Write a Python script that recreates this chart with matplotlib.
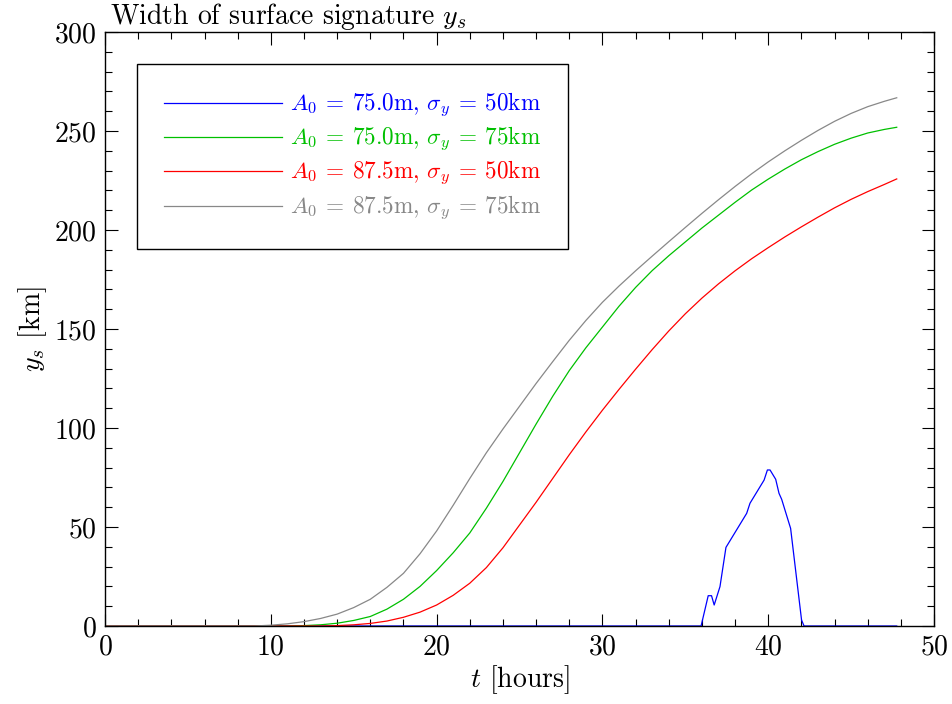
import matplotlib
matplotlib.use("Agg")
import matplotlib.pyplot as plt
from matplotlib.ticker import MultipleLocator

plt.rcParams.update({
    "font.family": "serif",
    "font.serif": ["cmr10"],
    "mathtext.fontset": "cm",
    "axes.formatter.use_mathtext": True,
    "axes.unicode_minus": False,
})

# Surface-signature width y_s [km] versus time t [hours]
t_a75_s50 = [0, 35.95, 36.38, 36.58, 36.74, 37.09, 37.45, 38.7, 38.9, 39.75,
             39.95, 40.11, 40.45, 40.65, 40.81, 41.35, 42.01, 42.16, 47.75]
y_a75_s50 = [0, 0, 15.3, 15.3, 10.6, 19.9, 39.7, 56.9, 62, 73.7,
             78.8, 78.8, 74.1, 67, 64, 49.3, 3, 0, 0]

t_a75_s75 = [0, 11, 12, 13, 14, 15, 16, 17, 18, 19, 20, 21, 22, 23, 24, 25,
             26, 27, 28, 29, 30, 31, 32, 33, 34, 35, 36, 37, 38, 39, 40, 41,
             42, 43, 44, 45, 46, 47, 47.75]
y_a75_s75 = [0, 0, 0.2, 0.6, 1.4, 2.8, 4.8, 8.5, 13.5, 20, 28, 37, 47, 59.5,
             73, 87.5, 102, 116, 129, 140.5, 151, 161.5, 171, 179.5, 187, 194,
             201, 207.5, 214, 220.2, 225.7, 230.8, 235.5, 239.6, 243.3,
             246.4, 249, 250.8, 251.9]

t_a875_s50 = [0, 13, 14, 15, 16, 17, 18, 19, 20, 21, 22, 23, 24, 25, 26, 27,
              28, 29, 30, 31, 32, 33, 34, 35, 36, 37, 38, 39, 40, 41, 42, 43,
              44, 45, 46, 47, 47.75]
y_a875_s50 = [0, 0, 0.2, 0.6, 1.3, 2.5, 4.4, 7, 10.6, 15.5, 21.6, 29.5, 39.5,
              51, 62.5, 74.5, 86.5, 98, 109, 119.5, 129.7, 139.6, 149, 157.7,
              165.6, 172.8, 179.4, 185.5, 191.1, 196.5, 201.6, 206.5, 211.2,
              215.5, 219.4, 223, 225.8]

t_a875_s75 = [0, 9, 10, 11, 12, 13, 14, 15, 16, 17, 18, 19, 20, 21, 22, 23,
              24, 25, 26, 27, 28, 29, 30, 31, 32, 33, 34, 35, 36, 37, 38, 39,
              40, 41, 42, 43, 44, 45, 46, 47, 47.75]
y_a875_s75 = [0, 0, 0.4, 1.1, 2.2, 3.8, 6, 9.3, 13.5, 19.5, 26.6, 36.5, 48,
              61, 74.5, 87.5, 99.5, 111, 122.5, 133.5, 144.3, 154.3, 163.5,
              171.7, 179.4, 186.8, 194.1, 201.3, 208.4, 215.3, 222, 228.4,
              234.4, 240, 245.3, 250.3, 254.9, 258.9, 262.3, 265, 266.8]

labels = [
    r"$A_0\:=\:75.0\mathrm{m}$, $\sigma_y\:=\:50\mathrm{km}$",
    r"$A_0\:=\:75.0\mathrm{m}$, $\sigma_y\:=\:75\mathrm{km}$",
    r"$A_0\:=\:87.5\mathrm{m}$, $\sigma_y\:=\:50\mathrm{km}$",
    r"$A_0\:=\:87.5\mathrm{m}$, $\sigma_y\:=\:75\mathrm{km}$",
]
colors = ["#0000ff", "#00c000", "#ff0000", "#888888"]

fig = plt.figure(figsize=(9.53, 7.04), dpi=100)
ax = fig.add_axes([0.1102, 0.1108, 0.8699, 0.8437])

series = [(t_a75_s50, y_a75_s50), (t_a75_s75, y_a75_s75),
          (t_a875_s50, y_a875_s50), (t_a875_s75, y_a875_s75)]
for (t, y), c, lab in zip(series, colors, labels):
    ax.plot(t, y, color=c, lw=0.9, label=lab)

ax.set_xlim(0, 50)
ax.set_ylim(0, 300)
ax.xaxis.set_major_locator(MultipleLocator(10))
ax.xaxis.set_minor_locator(MultipleLocator(2))
ax.yaxis.set_major_locator(MultipleLocator(50))
ax.yaxis.set_minor_locator(MultipleLocator(10))
ax.tick_params(which="both", direction="in", top=True, right=True,
               labelsize=20, width=0.8, color="black")
ax.tick_params(which="major", length=9, pad=6)
ax.tick_params(which="minor", length=5)
for s in ax.spines.values():
    s.set_linewidth(1.0)

ax.set_xlabel(r"$t$ [hours]", fontsize=20, labelpad=2)
ax.set_ylabel(r"$y_s$ [km]", fontsize=20, labelpad=4)
ax.set_title(r"Width of surface signature $y_s$", fontsize=20, loc="left",
             pad=2, x=0.006)

leg = ax.legend(loc="upper left", bbox_to_anchor=(0.0386, 0.946),
                borderaxespad=0, fontsize=16.7, frameon=True, fancybox=False,
                edgecolor="black", framealpha=1, handlelength=5.1,
                handletextpad=0.34, labelspacing=0.22, borderpad=1.15,
                labelcolor="linecolor")
leg.get_frame().set_linewidth(1.0)

fig.savefig("out.png", dpi=100)
